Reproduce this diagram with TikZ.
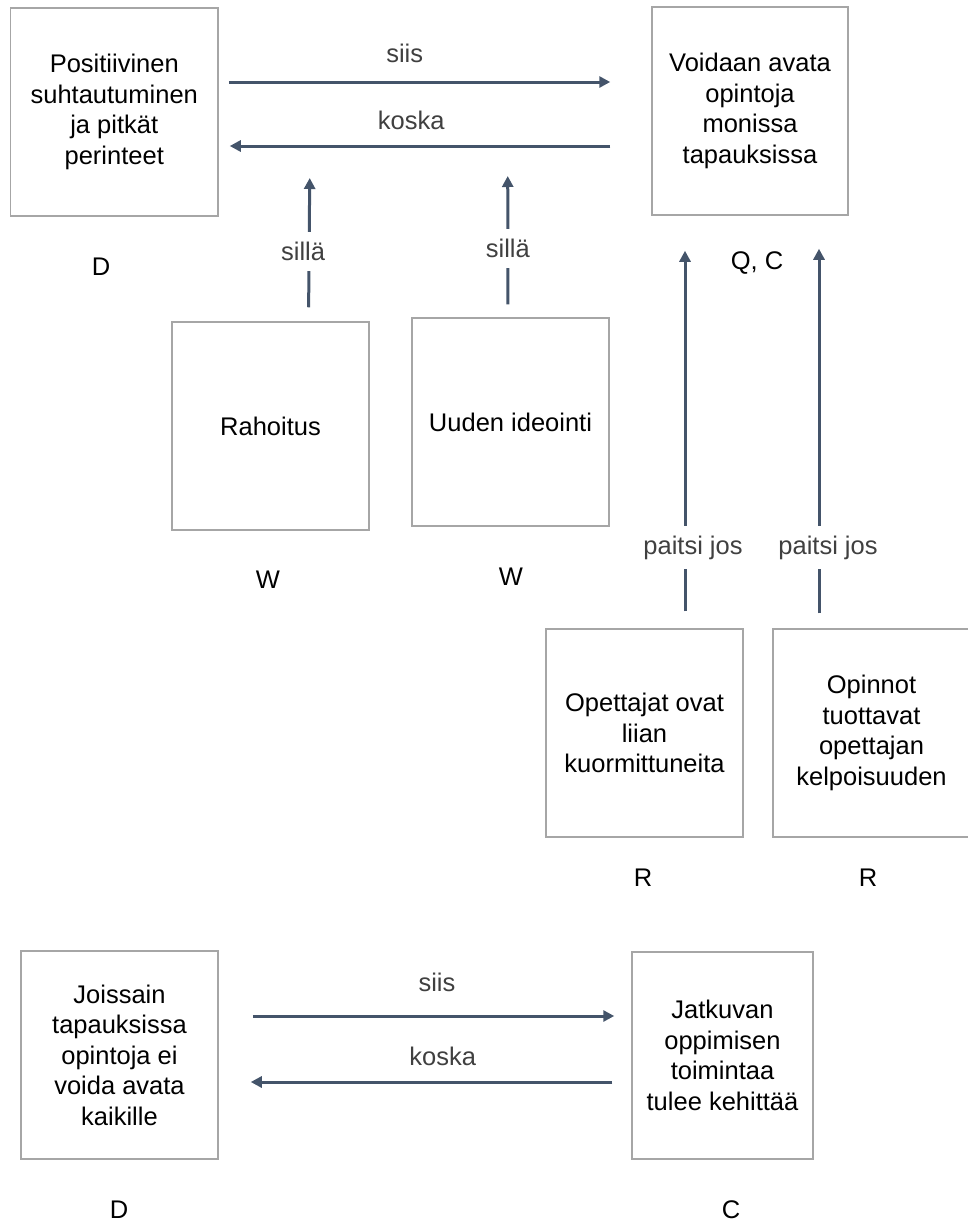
\documentclass[tikz,border=0pt]{standalone}
\usepackage{fontspec}
\setmainfont{Liberation Sans}
\usetikzlibrary{arrows.meta}
\definecolor{arrowblue}{HTML}{44546A}
\definecolor{boxgray}{HTML}{A6A6A6}
\definecolor{labelgray}{HTML}{404040}

\begin{document}
\begin{tikzpicture}[x=1pt, y=-1pt]
    \tikzstyle{every node}=[font=\fontsize{25.5}{30.5}\selectfont, align=center]
    \tikzstyle{box}=[draw=boxgray, line width=1.5pt, minimum width=197pt, minimum height=208pt, inner sep=0pt]
    \tikzstyle{arr}=[draw=arrowblue, line width=3pt, -{Triangle[length=11pt, width=11pt]}]
    \tikzstyle{lbl}=[text=labelgray, fill=white, inner xsep=2pt, inner ysep=10pt]
    \useasboundingbox (0,0) rectangle (967,1224);
    \node [box, minimum width=207.5pt] (pos) at (114.25,112) {Positiivinen\\suhtautuminen\\ja pitkät\\perinteet};
    \node [box, minimum width=196pt] (voi) at (750,111) {Voidaan avata\\opintoja\\monissa\\tapauksissa};
    \node [box] (rah) at (270.5,426) {Rahoitus};
    \node [box] (uud) at (510.5,422) {Uuden ideointi};
    \node [box] (ope) at (644.5,733) {Opettajat ovat\\liian\\kuormittuneita};
    \node [box] (opi) at (871.5,733) {Opinnot\\tuottavat\\opettajan\\kelpoisuuden};
    \node [box] (joi) at (119.5,1055) {Joissain\\tapauksissa\\opintoja ei\\voida avata\\kaikille};
    \node [box, minimum width=181pt, minimum height=207pt] (jat) at (722.5,1055.5) {Jatkuvan\\oppimisen\\toimintaa\\tulee kehittää};
    \node (dpos) at (101,267) {D};
    \node (qcvoi) at (757,263) {Q, C};
    \node (wrah) at (268,580) {W};
    \node (wuud) at (511,577) {W};
    \node (rope) at (643,878) {R};
    \node (ropi) at (868,878) {R};
    \node (djoi) at (119,1210) {D};
    \node (cjat) at (731,1210) {C};
    \draw [arr, shorten <=10pt, shorten >=41pt] ([yshift=30pt]pos.east) -- ([yshift=30pt]pos.east -| voi.west) node [lbl, pos=0.43, yshift=29pt] {siis};
    \draw [arr, shorten <=41pt, shorten >=11pt] ([yshift=-35pt]voi.west) -- ([yshift=-35pt]voi.west -| pos.east) coordinate [pos=0.789] (w1) coordinate [pos=0.332] (w2) node [lbl, pos=0.555, yshift=26pt] {koska};
    \draw [arr, shorten <=14pt, shorten >=32pt] ([xshift=38pt]rah.north) -- (w1) node [lbl, pos=0.40, xshift=-6pt] {sillä};
    \draw [arr, shorten <=13pt, shorten >=30pt] ([xshift=-2.5pt]uud.north) -- (w2) node [lbl, pos=0.40] {sillä};
    \draw [arr, shorten <=17pt, shorten >=35pt] ([xshift=40.5pt]ope.north) -- ([xshift=-65pt]voi.south) node [lbl, pos=0.196, xshift=8pt] {paitsi jos};
    \draw [arr, shorten <=15pt, shorten >=33pt] ([xshift=-52.5pt]opi.north) -- ([xshift=69pt]voi.south) node [lbl, pos=0.196, xshift=9pt] {paitsi jos};
    \draw [arr, shorten <=34pt, shorten >=17pt] ([yshift=39pt]joi.east) -- ([yshift=39pt]joi.east -| jat.west) node [lbl, pos=0.529, yshift=34pt] {siis};
    \draw [arr, shorten <=19pt, shorten >=32pt] ([yshift=-26.5pt]jat.west) -- ([yshift=-26.5pt]jat.west -| joi.east) node [lbl, pos=0.457, yshift=26pt] {koska};
\end{tikzpicture}
\end{document}
